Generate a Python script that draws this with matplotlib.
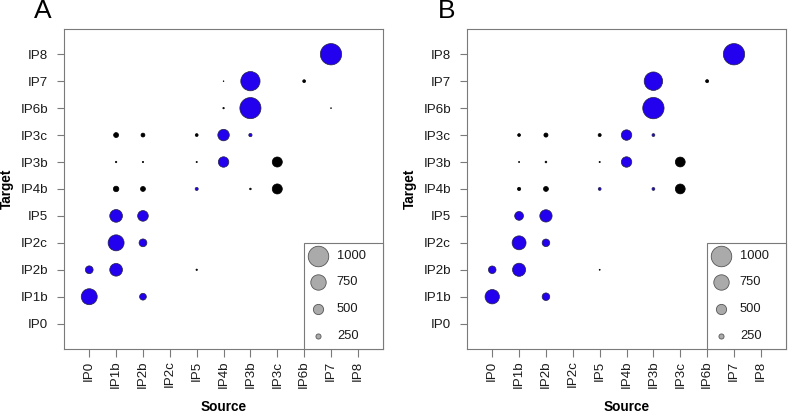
import matplotlib
matplotlib.use("Agg")
import matplotlib.pyplot as plt
from matplotlib.patches import Rectangle

plt.rcParams['font.family'] = ['Liberation Sans', 'DejaVu Sans']

# category order (bottom -> top on y, left -> right on x)
groups = ['IP0', 'IP1b', 'IP2b', 'IP2c', 'IP5', 'IP4b', 'IP3b', 'IP3c', 'IP6b', 'IP7', 'IP8']

# panel A: source, target, signed value (positive = blue, negative = black)
src_a = ['IP7', 'IP4b', 'IP3b', 'IP6b', 'IP4b', 'IP3b', 'IP7',
         'IP1b', 'IP2b', 'IP5', 'IP4b', 'IP3b',
         'IP1b', 'IP2b', 'IP5', 'IP4b', 'IP3c',
         'IP1b', 'IP2b', 'IP5', 'IP3b', 'IP3c',
         'IP1b', 'IP2b', 'IP1b', 'IP2b',
         'IP0', 'IP1b', 'IP5', 'IP0', 'IP2b']
tgt_a = ['IP8', 'IP7', 'IP7', 'IP7', 'IP6b', 'IP6b', 'IP6b',
         'IP3c', 'IP3c', 'IP3c', 'IP3c', 'IP3c',
         'IP3b', 'IP3b', 'IP3b', 'IP3b', 'IP3b',
         'IP4b', 'IP4b', 'IP4b', 'IP4b', 'IP4b',
         'IP5', 'IP5', 'IP2c', 'IP2c',
         'IP2b', 'IP2b', 'IP2b', 'IP1b', 'IP1b']
val_a = [1040, -35, 940, -140, -70, 1030, -40,
         -240, -190, -140, 560, 160,
         -70, -65, -60, 510, -490,
         -270, -240, 150, -80, -490,
         620, 520, 780, 380,
         380, 620, -70, 780, 330]

# panel B
src_b = ['IP7', 'IP3b', 'IP6b', 'IP3b',
         'IP1b', 'IP2b', 'IP5', 'IP4b', 'IP3b',
         'IP1b', 'IP2b', 'IP5', 'IP4b', 'IP3c',
         'IP1b', 'IP2b', 'IP5', 'IP3b', 'IP3c',
         'IP1b', 'IP2b', 'IP1b', 'IP2b',
         'IP0', 'IP1b', 'IP5', 'IP0', 'IP2b']
tgt_b = ['IP8', 'IP7', 'IP7', 'IP6b',
         'IP3c', 'IP3c', 'IP3c', 'IP3c', 'IP3c',
         'IP3b', 'IP3b', 'IP3b', 'IP3b', 'IP3b',
         'IP4b', 'IP4b', 'IP4b', 'IP4b', 'IP4b',
         'IP5', 'IP5', 'IP2c', 'IP2c',
         'IP2b', 'IP2b', 'IP2b', 'IP1b', 'IP1b']
val_b = [1040, 900, -150, 1040,
         -140, -200, -150, 510, 140,
         -55, -85, -60, 510, -480,
         -160, -240, 140, 140, -480,
         430, 600, 680, 370,
         370, 640, -50, 700, 370]

legend_vals = [1000, 750, 500, 250]
legend_y = [0.291, 0.209, 0.125, 0.041]

BLUE = '#2300EE'
BOX = '#7a7a7a'


def msize(v):
    # marker area (pt^2); diameter grows linearly with the value
    d = 0.72 * 0.0205 * abs(v)
    return d * d


def panel(ax, src, tgt, val, letter):
    xs = [groups.index(s) + 1 for s in src]
    ys = [groups.index(t) + 1 for t in tgt]
    sizes = [msize(v) for v in val]
    fc = [BLUE if v > 0 else 'black' for v in val]
    ec = ['#222244' if v > 0 else 'black' for v in val]
    ax.scatter(xs, ys, s=sizes, c=fc, edgecolors=ec, linewidths=0.5, zorder=3)

    ax.set_xlim(0.06, 11.94)
    ax.set_ylim(0.06, 11.94)
    ticks = list(range(1, len(groups) + 1))
    ax.set_xticks(ticks)
    ax.set_xticklabels(groups, rotation=90, fontsize=9.6, color='#1a1a1a')
    ax.set_yticks(ticks)
    ax.set_yticklabels(groups, fontsize=9.6, color='#1a1a1a')
    ax.tick_params(axis='x', length=5.8, width=0.8, color=BOX, pad=2.5)
    ax.tick_params(axis='y', length=5.0, width=0.8, color=BOX, pad=6.5)
    for sp in ax.spines.values():
        sp.set_color(BOX)
        sp.set_linewidth(0.8)
    ax.set_xlabel('Source', fontsize=9.8, fontweight='bold')
    ax.set_ylabel('Target', fontsize=9.8, fontweight='bold')
    ax.xaxis.set_label_coords(0.5, -0.158)
    ax.yaxis.set_label_coords(-0.158, 0.5)

    # size legend box in the lower right corner
    ax.add_patch(Rectangle((0.752, 0), 0.248, 0.331, transform=ax.transAxes,
                           facecolor='white', edgecolor=BOX, linewidth=0.8,
                           zorder=4, clip_on=False))
    for v, yy in zip(legend_vals, legend_y):
        ax.scatter([0.796], [yy], s=msize(v), c='#aaaaaa', edgecolors='#555555',
                   linewidths=0.6, transform=ax.transAxes, zorder=5, clip_on=False)
        ax.text(0.855, yy, str(v), transform=ax.transAxes, fontsize=9.3,
                va='center', ha='left', color='#1a1a1a', zorder=5)

    ax.text(-0.065, 1.055, letter, transform=ax.transAxes, fontsize=19,
            ha='center', va='center')


fig = plt.figure(figsize=(7.88, 4.13), dpi=100)
ax_a = fig.add_axes([0.0812, 0.155, 0.405, 0.775])
ax_b = fig.add_axes([0.5926, 0.155, 0.405, 0.775])
panel(ax_a, src_a, tgt_a, val_a, 'A')
panel(ax_b, src_b, tgt_b, val_b, 'B')

fig.savefig('out.png', dpi=100)
